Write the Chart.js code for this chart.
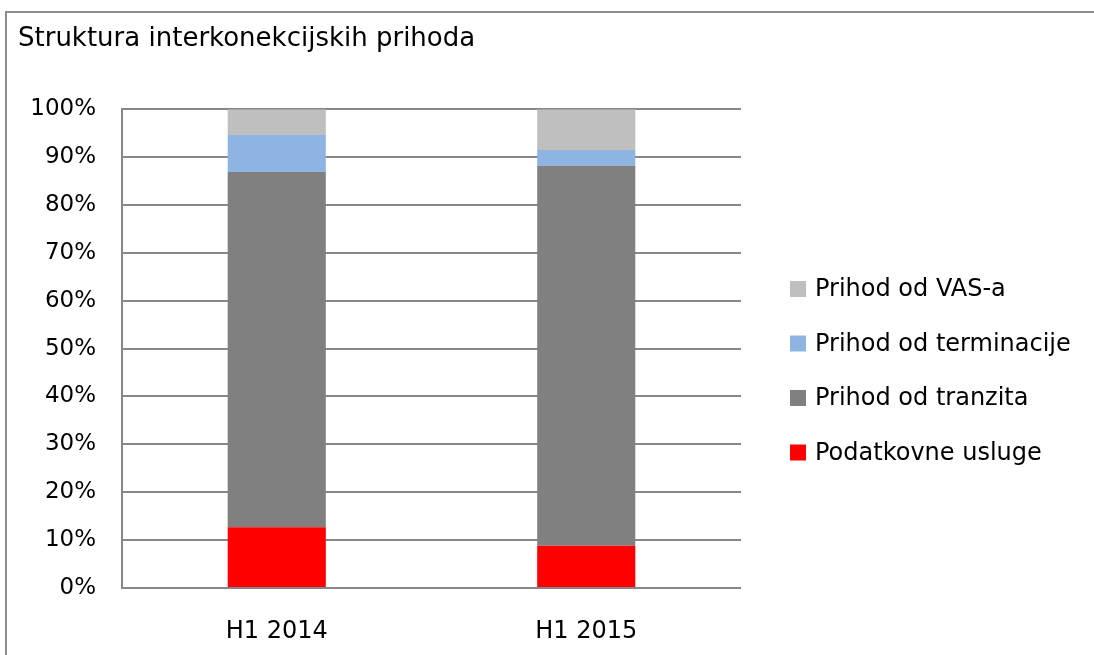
<!DOCTYPE html>
<html>
<head>
<meta charset="utf-8">
<script src="https://cdn.jsdelivr.net/npm/chart.js@4/dist/chart.umd.min.js"></script>
<style>
    body { margin: 0; background: #fff; }
    #wrap { position: relative; width: 1094px; height: 655px; overflow: hidden; }
    #frame { position: absolute; left: 5px; top: 11px; width: 1200px; height: 800px; border: 2px solid #8c8c8c; }
    #chart { position: absolute; left: 0; top: 0; }
</style>
</head>
<body>
<div id="wrap">
    <div id="frame"></div>
    <canvas id="chart" width="1094" height="655"></canvas>
</div>
<script>
const categories = ['H1 2014', 'H1 2015'];
const podatkovne = [12.7, 8.8];
const tranzit = [74.2, 79.4];
const terminacija = [7.7, 3.3];
const vas = [5.4, 8.5];
const seriesNames = ['Podatkovne usluge', 'Prihod od tranzita', 'Prihod od terminacije', 'Prihod od VAS-a'];
const seriesColors = ['#ff0000', '#808080', '#8db4e2', '#bfbfbf'];

const FONT = 'DejaVu Sans';

// legend drawn at fixed spot on the right, top entry = last series
const legendRight = {
    id: 'legendRight',
    afterDraw(chart) {
        const ctx = chart.ctx;
        const sets = chart.data.datasets.slice().reverse();
        ctx.save();
        ctx.font = '24px "' + FONT + '"';
        ctx.textBaseline = 'middle';
        sets.forEach((ds, i) => {
            const cy = 289 + i * 54.5;
            ctx.fillStyle = ds.backgroundColor;
            ctx.fillRect(790, cy - 8, 16, 16);
            ctx.fillStyle = '#000';
            ctx.fillText(ds.label, 815, cy + 1);
        });
        ctx.restore();
    }
};

const values = [podatkovne, tranzit, terminacija, vas];

new Chart(document.getElementById('chart'), {
    type: 'bar',
    data: {
        labels: categories,
        datasets: values.map((v, i) => ({
            label: seriesNames[i],
            data: v,
            backgroundColor: seriesColors[i],
            borderWidth: 0,
            categoryPercentage: 1,
            barPercentage: 0.317
        }))
    },
    options: {
        responsive: false,
        animation: false,
        layout: { padding: { left: 18, right: 353, top: 24, bottom: 0 } },
        plugins: {
            legend: { display: false },
            tooltip: { enabled: false },
            title: {
                display: true,
                text: 'Struktura interkonekcijskih prihoda',
                align: 'start',
                color: '#000',
                font: { family: FONT, size: 26, weight: 'normal' },
                padding: { top: 0, bottom: 54 }
            }
        },
        scales: {
            x: {
                stacked: true,
                grid: { display: false },
                border: { display: false },
                ticks: { color: '#000', font: { family: FONT, size: 24 }, padding: 21 },
                afterFit: s => { s.height = 67; }
            },
            y: {
                stacked: true,
                min: 0,
                max: 100,
                ticks: {
                    stepSize: 10,
                    color: '#000',
                    font: { family: FONT, size: 23 },
                    padding: 26,
                    callback: v => v + '%'
                },
                grid: { color: '#878787', lineWidth: 2, drawTicks: false },
                border: { display: true, color: '#878787', width: 2 },
                afterFit: s => { s.width = 104; }
            }
        }
    },
    plugins: [legendRight]
});
</script>
</body>
</html>
